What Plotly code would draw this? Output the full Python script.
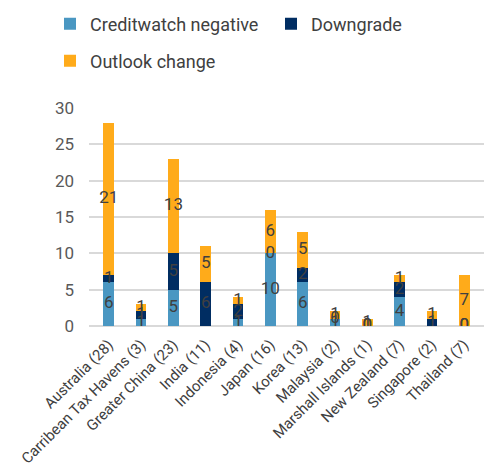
import plotly.graph_objects as go

# Rating actions by market (count of actions in parentheses)
categories = [
    "Australia (28)", "Carribean Tax Havens (3)", "Greater China (23)",
    "India (11)", "Indonesia (4)", "Japan (16)", "Korea (13)",
    "Malaysia (2)", "Marshall Islands (1)", "New Zealand (7)",
    "Singapore (2)", "Thailand (7)",
]
creditwatch_negative = [6, 1, 5, None, 1, 10, 6, 1, 0, 4, None, 0]
downgrade = [1, 1, 5, 6, 2, 0, 2, 0, 0, 2, 1, 0]
outlook_change = [21, 1, 13, 5, 1, 6, 5, 1, 1, 1, 1, 7]

series = [
    ("Creditwatch negative", creditwatch_negative, "#4a97c2", "legend"),
    ("Downgrade", downgrade, "#002d62", "legend2"),
    ("Outlook change", outlook_change, "#ffab1a", "legend3"),
]

FONT = "Roboto, Arial, sans-serif"
TEXT = "#404040"

fig = go.Figure()

base = [0.0] * len(categories)
label_x, label_y, label_t = [], [], []
for name, vals, color, leg in series:
    fig.add_trace(go.Bar(
        name=name, x=categories, y=[v or 0 for v in vals],
        marker=dict(color=color, line=dict(width=0)),
        legend=leg,
    ))
    for i, v in enumerate(vals):
        if v is None:
            continue
        label_x.append(categories[i])
        label_y.append(base[i] + v / 2)
        label_t.append(str(v))
        base[i] += v

# segment value labels, centred in each stacked segment
fig.add_trace(go.Scatter(
    x=label_x, y=label_y, text=label_t, mode="text",
    textposition="middle center",
    textfont=dict(family=FONT, size=17, color=TEXT),
    showlegend=False, hoverinfo="skip",
))

legend_common = dict(
    orientation="h", xref="container", yref="container",
    xanchor="left", yanchor="middle",
    font=dict(family=FONT, size=18, color=TEXT),
    bgcolor="rgba(0,0,0,0)", itemwidth=30, tracegroupgap=0,
)

fig.update_layout(
    width=484, height=473,
    barmode="stack", bargap=0.667,
    plot_bgcolor="white", paper_bgcolor="white",
    margin=dict(l=89, r=0, t=108, b=147),
    font=dict(family=FONT, color=TEXT),
    legend=dict(x=50 / 484, y=1 - 24 / 473, **legend_common),
    legend2=dict(x=271 / 484, y=1 - 24 / 473, **legend_common),
    legend3=dict(x=50 / 484, y=1 - 61 / 473, **legend_common),
    xaxis=dict(
        tickangle=-45, tickfont=dict(family=FONT, size=15, color=TEXT),
        showgrid=False, showline=False, ticks="", ticklabelstandoff=6,
    ),
    yaxis=dict(
        range=[0, 30], dtick=5, tickfont=dict(family=FONT, size=17, color="#595959"),
        gridcolor="#d9d9d9", gridwidth=1.5, zeroline=True,
        zerolinecolor="#d9d9d9", zerolinewidth=1.5,
        showline=False, ticks="", ticklabelstandoff=14,
    ),
)

fig.write_html("out.html")
